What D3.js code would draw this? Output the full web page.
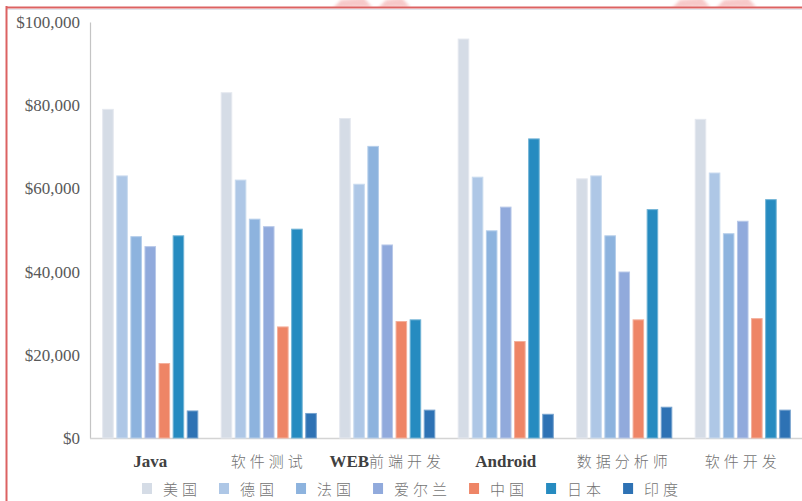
<!DOCTYPE html>
<html>
<head>
<meta charset="utf-8">
<script src="https://cdn.jsdelivr.net/npm/d3@7/dist/d3.min.js"></script>
<style>
  body { margin: 0; background: #fff; }
  svg { display: block; }
</style>
</head>
<body>
<svg id="chart" width="802" height="501"></svg>
<script>
// Job categories along the x axis
const categories = ["Java", "软件测试", "WEB前端开发", "Android", "数据分析师", "软件开发"];
// Countries (one bar per country in each category)
const seriesNames = ["美国", "德国", "法国", "爱尔兰", "中国", "日本", "印度"];
// Average salaries (USD) per category, one array per country
const usa     = [79000, 83000, 76800, 95900, 62300, 76600];
const germany = [63000, 62000, 61000, 62700, 63000, 63700];
const france  = [48400, 52600, 70100, 49800, 48600, 49100];
const ireland = [46000, 50800, 46400, 55500, 39900, 52100];
const china   = [17900, 26700, 28000, 23200, 28400, 28700];
const japan   = [48600, 50200, 28400, 71900, 54900, 57300];
const india   = [6500, 5900, 6700, 5700, 7400, 6700];
const yTicks  = [0, 20000, 40000, 60000, 80000, 100000];

const seriesValues = [usa, germany, france, ireland, china, japan, india];
const seriesColors = ["#d5dce6", "#aec7e6", "#8db3de", "#91aadc", "#ee8566", "#268bc0", "#2e72b4"];

const svg = d3.select("#chart");

// Soft pink stamp fragments peeking above the frame
const defs = svg.append("defs");
defs.append("filter").attr("id", "soft").append("feGaussianBlur").attr("stdDeviation", 1.6);
defs.append("clipPath").attr("id", "topStrip").append("rect")
  .attr("x", 0).attr("y", 0).attr("width", 802).attr("height", 7);
const stamp = svg.append("g").attr("clip-path", "url(#topStrip)");
const stampG = stamp.append("g").attr("filter", "url(#soft)").attr("fill", "#f2a5a5").attr("opacity", 0.6);
[[333, 372], [378, 410], [672, 710], [716, 756]].forEach(([a, b]) => {
  stampG.append("path")
    .attr("d", `M${a},8 L${a + 8},0 L${b - 8},-2 L${b},7 Z`);
});

// Frame lines
svg.append("line").attr("x1", 6).attr("x2", 802).attr("y1", 9.5).attr("y2", 9.5)
  .attr("stroke", "#dfe4ec").attr("stroke-width", 1);
svg.append("line").attr("x1", 6.5).attr("x2", 6.5).attr("y1", 6).attr("y2", 501)
  .attr("stroke", "#dc6262").attr("stroke-width", 2);
svg.append("line").attr("x1", 6).attr("x2", 802).attr("y1", 7.5).attr("y2", 7.5)
  .attr("stroke", "#dc6262").attr("stroke-width", 2);

const x = d3.scaleBand().domain(categories).range([91, 802]);
const xInner = d3.scaleBand().domain(seriesNames).range([0, x.bandwidth()])
  .paddingInner(0.25).paddingOuter(0.83);
const y = d3.scaleLinear().domain([0, 100000]).range([438, 22]);

// Y axis
const yAxis = svg.append("g").attr("transform", "translate(90,0)")
  .call(d3.axisLeft(y).tickValues(yTicks).tickSize(0).tickPadding(10).tickFormat(d3.format("$,")));
yAxis.select(".domain").attr("stroke", "#c4c4c4").attr("stroke-width", 1.2);
yAxis.selectAll("text")
  .attr("font-family", "'Liberation Serif', serif")
  .attr("font-size", 17)
  .attr("fill", "#595959");

// Baseline
svg.append("line").attr("x1", 90).attr("x2", 802).attr("y1", 438.5).attr("y2", 438.5)
  .attr("stroke", "#d4d4d4").attr("stroke-width", 1.5);

// Bars
const rows = [];
seriesNames.forEach((s, si) => {
  categories.forEach((c, ci) => rows.push({ series: s, si, category: c, value: seriesValues[si][ci] }));
});
svg.append("g").selectAll("rect").data(rows).join("rect")
  .attr("x", d => x(d.category) + xInner(d.series))
  .attr("y", d => y(d.value))
  .attr("width", xInner.bandwidth())
  .attr("height", d => y(0) - y(d.value))
  .attr("fill", d => seriesColors[d.si])
  .attr("stroke", d => d3.interpolateRgb(seriesColors[d.si], "#ffffff")(0.35))
  .attr("stroke-width", 1);

// Category labels: Latin parts bold serif, Chinese parts light and spaced
const xAxis = svg.append("g").attr("transform", "translate(0,438)")
  .call(d3.axisBottom(x).tickSize(0).tickFormat(""));
xAxis.select(".domain").remove();
xAxis.selectAll(".tick").each(function(cat) {
  const t = d3.select(this).append("text")
    .attr("y", 29)
    .attr("text-anchor", "middle");
  const parts = cat.match(/[A-Za-z]+|[^A-Za-z]+/g);
  parts.forEach(p => {
    const latin = /^[A-Za-z]+$/.test(p);
    const ts = t.append("tspan").text(p);
    if (latin) {
      ts.attr("font-family", "'Liberation Serif', serif").attr("font-weight", "bold")
        .attr("font-size", 17).attr("fill", "#404040");
    } else {
      ts.attr("font-family", "'Noto Sans CJK SC', sans-serif").attr("font-weight", 300)
        .attr("font-size", 15).attr("fill", "#737373").attr("letter-spacing", 4);
    }
  });
});

// Legend
const legend = svg.append("g");
let lx = 142;
seriesNames.forEach((s, i) => {
  legend.append("rect").attr("x", lx).attr("y", 483).attr("width", 10).attr("height", 11)
    .attr("fill", seriesColors[i]);
  const t = legend.append("text").attr("x", lx + 21).attr("y", 495)
    .attr("font-family", "'Noto Sans CJK SC', sans-serif").attr("font-weight", 300)
    .attr("font-size", 15).attr("fill", "#737373").attr("letter-spacing", 4)
    .text(s);
  lx += 21 + t.node().getComputedTextLength() + 18;
});
</script>
</body>
</html>
